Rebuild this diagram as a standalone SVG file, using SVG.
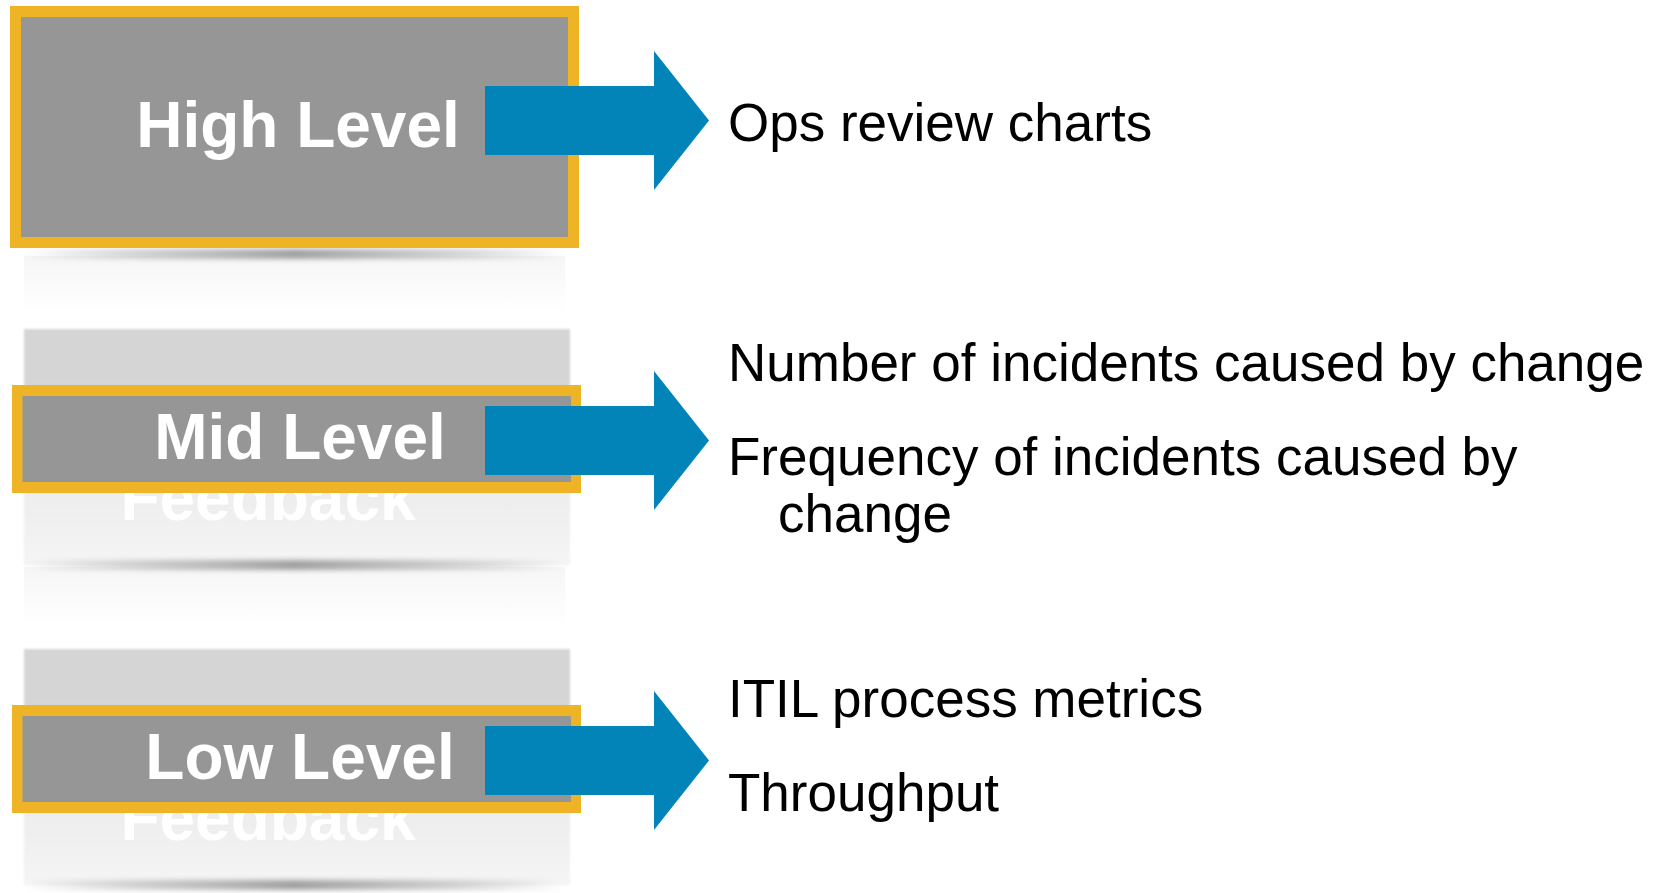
<svg xmlns="http://www.w3.org/2000/svg" width="1667" height="893" viewBox="0 0 1667 893">
<style>
.lvl{font-family:"Liberation Sans",Arial,sans-serif;font-weight:bold;font-size:64px;fill:#fff;text-anchor:middle}
.fb{font-family:"Liberation Sans",Arial,sans-serif;font-weight:bold;font-size:64px;fill:#fff;text-anchor:middle}
.item{font-family:"Liberation Sans",Arial,sans-serif;font-size:53px;fill:#000}
.hl{fill:#EFB425}
.box{fill:#969696}
.arrow{fill:#0284B9}
</style>
<defs>
<linearGradient id="panelGrad" x1="0" y1="0" x2="0" y2="1">
<stop offset="0" stop-color="#d5d5d5"/>
<stop offset="0.28" stop-color="#d6d6d6"/>
<stop offset="0.72" stop-color="#eeeeee"/>
<stop offset="1" stop-color="#f5f5f5"/>
</linearGradient>
<linearGradient id="shadowGrad" x1="0" y1="0" x2="1" y2="0">
<stop offset="0" stop-color="#a0a0a0" stop-opacity="0"/>
<stop offset="0.25" stop-color="#a8a8a8" stop-opacity="0.6"/>
<stop offset="0.5" stop-color="#a0a0a0" stop-opacity="1"/>
<stop offset="0.75" stop-color="#a8a8a8" stop-opacity="0.6"/>
<stop offset="1" stop-color="#a0a0a0" stop-opacity="0"/>
</linearGradient>
<linearGradient id="reflGrad" x1="0" y1="0" x2="0" y2="1">
<stop offset="0" stop-color="#f6f6f6"/>
<stop offset="1" stop-color="#ffffff"/>
</linearGradient>
<filter id="blur" x="-5%" y="-100%" width="110%" height="300%">
<feGaussianBlur stdDeviation="2.5"/>
</filter>
<filter id="soft" x="-2%" y="-2%" width="104%" height="104%">
<feGaussianBlur stdDeviation="1"/>
</filter>
<path id="arr" d="M485,86 H654 V51 L709,120.5 L654,190 V155 H485 Z"/>
</defs>
<rect width="1667" height="893" fill="#fff"/>

<g id="high-level">
<rect x="24" y="256" width="541" height="58" fill="url(#reflGrad)"/>
<rect x="24" y="249" width="541" height="10" fill="url(#shadowGrad)" filter="url(#blur)"/>
<rect class="hl" x="10" y="6" width="569" height="242"/>
<rect class="box" x="21" y="17" width="547" height="220"/>
<text class="lvl" x="298" y="147">High Level</text>
</g>

<g id="mid-level">
<rect x="24" y="329" width="546" height="236" fill="url(#panelGrad)" filter="url(#soft)"/>
<text class="fb" x="268" y="520">Feedback</text>
<rect x="24" y="567" width="541" height="60" fill="url(#reflGrad)"/>
<rect x="24" y="560" width="541" height="10" fill="url(#shadowGrad)" filter="url(#blur)"/>
<rect class="hl" x="12" y="385" width="569" height="108"/>
<rect class="box" x="22.5" y="396" width="548.5" height="86"/>
<text class="lvl" x="300" y="459">Mid Level</text>
</g>

<g id="low-level">
<rect x="24" y="649" width="546" height="236" fill="url(#panelGrad)" filter="url(#soft)"/>
<text class="fb" x="268" y="840">Feedback</text>
<rect x="24" y="880" width="541" height="10" fill="url(#shadowGrad)" filter="url(#blur)"/>
<rect class="hl" x="12" y="705" width="569" height="108"/>
<rect class="box" x="22.5" y="716" width="548.5" height="86"/>
<text class="lvl" x="300" y="779">Low Level</text>
</g>

<g id="connectors">
<use href="#arr" class="arrow"/>
<use href="#arr" class="arrow" transform="translate(0,320)"/>
<use href="#arr" class="arrow" transform="translate(0,640)"/>
</g>

<g id="high-items">
<text class="item" x="728" y="141">Ops review charts</text>
</g>
<g id="mid-items">
<text class="item" x="728" y="381">Number of incidents caused by change</text>
<text class="item" x="728" y="475">Frequency of incidents caused by</text>
<text class="item" x="778" y="532">change</text>
</g>
<g id="low-items">
<text class="item" x="728" y="717">ITIL process metrics</text>
<text class="item" x="728" y="811">Throughput</text>
</g>
</svg>
